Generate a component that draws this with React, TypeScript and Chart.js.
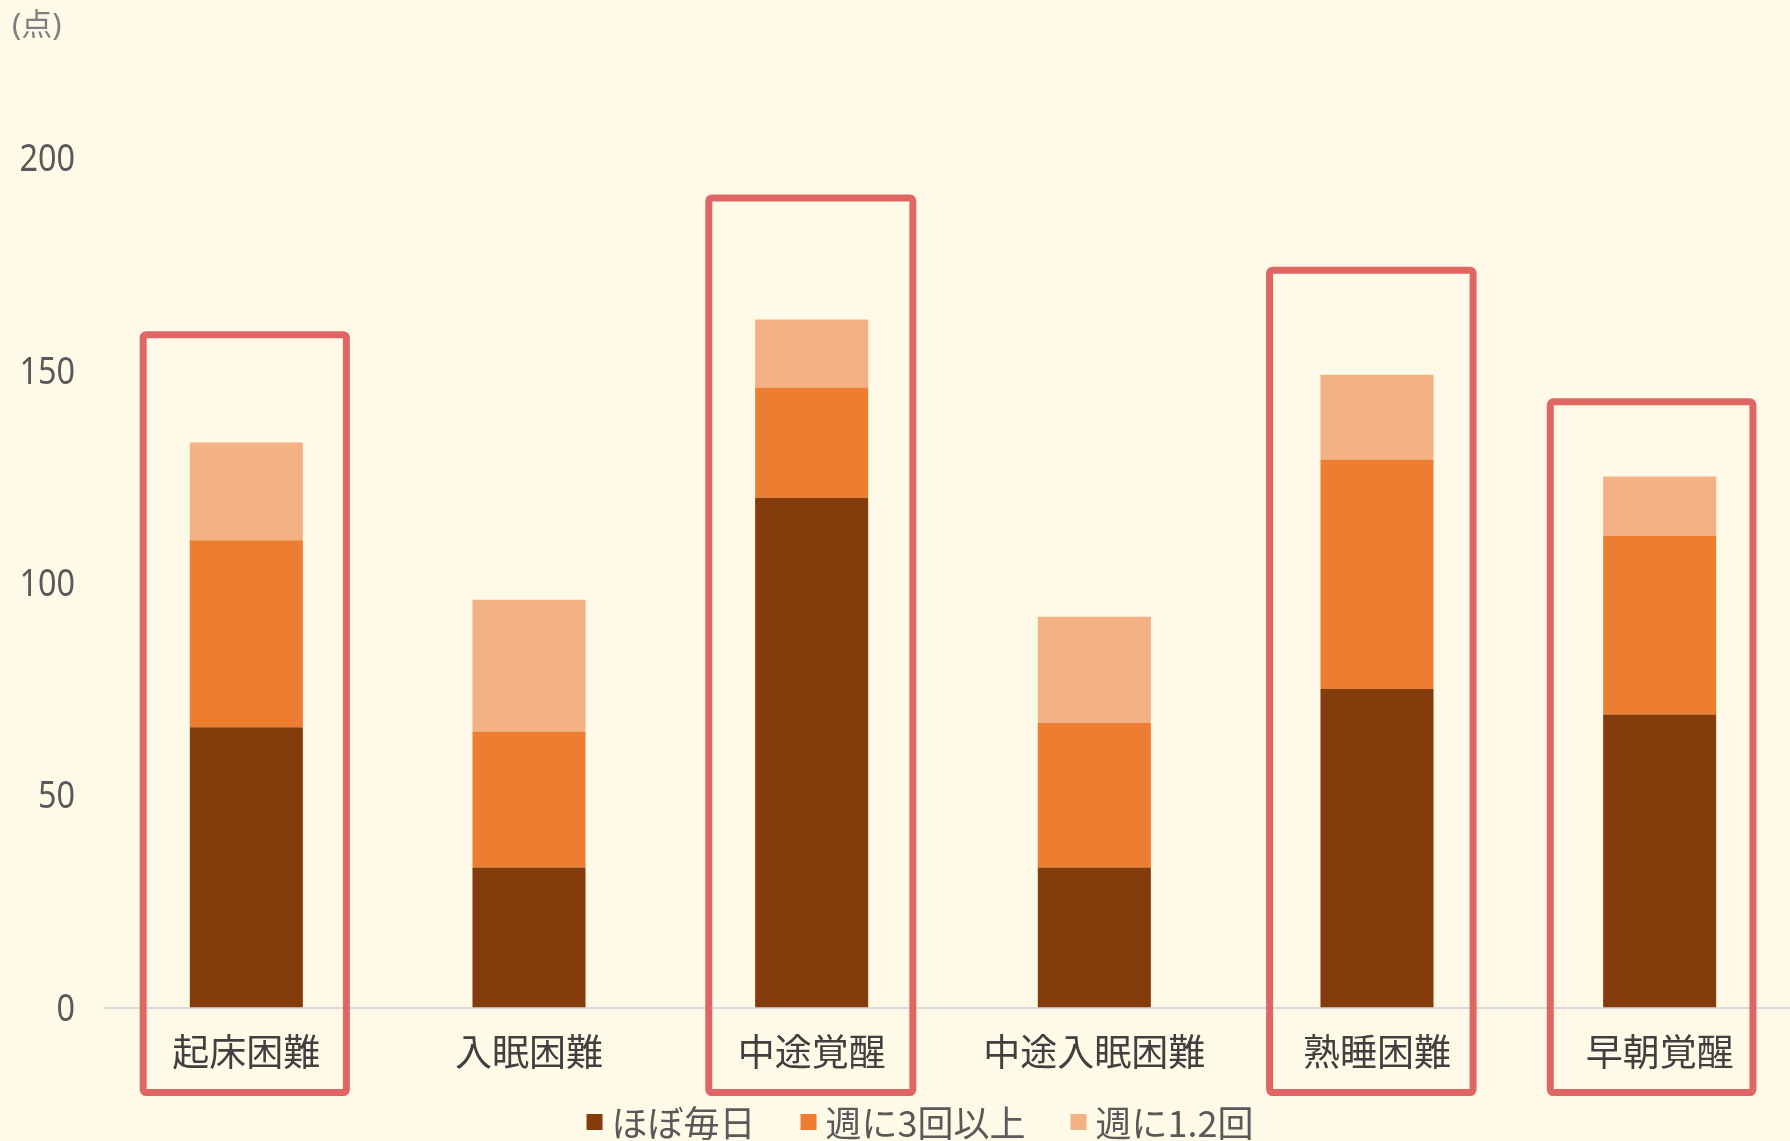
import React, { useEffect, useRef } from "react";
import { Chart, registerables } from "chart.js";

Chart.register(...registerables);

// ---- data ----
const categories = ["起床困難", "入眠困難", "中途覚醒", "中途入眠困難", "熟睡困難", "早朝覚醒"];
const seriesNames = ["ほぼ毎日", "週に3回以上", "週に1.2回"];
const almostDaily = [66, 33, 120, 33, 75, 69];
const threePlusWeekly = [44, 32, 26, 34, 54, 42];
const oneTwoWeekly = [23, 31, 16, 25, 20, 14];
const yTicks = [0, 50, 100, 150, 200];
const unitLabel = "(点)";

// highlighted categories (red frames), tops in value units
const highlightIndex = [0, 2, 4, 5];
const highlightTop = [158.4, 190.6, 173.6, 142.6];
const highlightBottom = -20;
// frame edges relative to category centre, in category widths
const highlightLeft = [-0.365, -0.364, -0.38, -0.387];
const highlightRight = [0.354, 0.358, 0.34, 0.33];

// ---- styles ----
const BG = "#FFFAE8";
const COLORS = ["#843C0C", "#ED7D31", "#F4B183"];
const NUM_FONT = "'Noto Sans', 'Noto Sans CJK JP', sans-serif";
const CJK_FONT = "'Noto Sans CJK JP', sans-serif";

const bgPlugin = {
  id: "bg",
  beforeDraw(chart: any) {
    const { ctx, width, height } = chart;
    ctx.save();
    ctx.fillStyle = BG;
    ctx.fillRect(0, 0, width, height);
    ctx.restore();
  },
};

const framePlugin = {
  id: "frames",
  afterDraw(chart: any) {
    const { ctx } = chart;
    const xs = chart.scales.x;
    const ys = chart.scales.y;
    const cw = xs.getPixelForValue(1) - xs.getPixelForValue(0);

    // y tick labels (narrow digits)
    ctx.save();
    ctx.fillStyle = "#595959";
    ctx.font = `39px ${NUM_FONT}`;
    ctx.textAlign = "right";
    ctx.textBaseline = "middle";
    ys.ticks.forEach((t: any) => {
      const py = ys.getPixelForValue(t.value);
      ctx.save();
      ctx.translate(ys.right - 30, py + 2);
      ctx.scale(0.83, 1);
      ctx.fillText(String(t.value), 0, 0);
      ctx.restore();
    });
    ctx.restore();

    // highlight frames
    ctx.save();
    ctx.strokeStyle = "#E06666";
    ctx.lineWidth = 7;
    ctx.lineJoin = "round";
    highlightIndex.forEach((idx, k) => {
      const cx = xs.getPixelForValue(idx);
      const l = cx + highlightLeft[k] * cw;
      const r = cx + highlightRight[k] * cw;
      const t = ys.getPixelForValue(highlightTop[k]);
      const b = ys.getPixelForValue(highlightBottom);
      ctx.beginPath();
      if (ctx.roundRect) ctx.roundRect(l, t, r - l, b - t, 3);
      else ctx.rect(l, t, r - l, b - t);
      ctx.stroke();
    });
    ctx.restore();

    // unit label
    ctx.save();
    ctx.fillStyle = "#7F7F7F";
    ctx.font = `31px ${NUM_FONT}`;
    ctx.textBaseline = "middle";
    ctx.textAlign = "left";
    ctx.fillText(unitLabel, 12, 26);
    ctx.restore();

    // legend
    ctx.save();
    ctx.font = `36px ${CJK_FONT}`;
    ctx.textBaseline = "middle";
    ctx.textAlign = "left";
    const box = 16;
    const gap = 9;
    const itemGap = 45;
    const items = chart.data.datasets.map((d: any) => ({
      label: d.label,
      color: d.backgroundColor,
      w: box + gap + ctx.measureText(d.label).width,
    }));
    const total = items.reduce((s: number, it: any) => s + it.w, 0) + itemGap * (items.length - 1);
    let x = 920 - total / 2;
    const y = 1122;
    items.forEach((it: any) => {
      ctx.fillStyle = it.color;
      ctx.fillRect(x, y - box / 2, box, box);
      ctx.fillStyle = "#595959";
      ctx.fillText(it.label, x + box + gap, y + 1);
      x += it.w + itemGap;
    });
    ctx.restore();
  },
};

export default function App() {
  const ref = useRef<HTMLCanvasElement>(null);

  useEffect(() => {
    if (!ref.current) return;
    const values = [almostDaily, threePlusWeekly, oneTwoWeekly];
    const chart = new Chart(ref.current, {
      type: "bar",
      data: {
        labels: categories,
        datasets: seriesNames.map((name, i) => ({
          label: name,
          data: values[i],
          backgroundColor: COLORS[i],
          borderWidth: 0,
          categoryPercentage: 0.8,
          barPercentage: 0.5,
        })),
      },
      options: {
        responsive: false,
        animation: false,
        devicePixelRatio: 1,
        layout: { padding: { top: 158, left: 13, right: 0, bottom: 45 } },
        plugins: {
          legend: { display: false },
          tooltip: { enabled: false },
          title: { display: false },
        },
        scales: {
          x: {
            stacked: true,
            grid: { display: false, drawTicks: false, tickLength: 0 },
            border: { display: true, color: "#D9D9D9", width: 2 },
            ticks: {
              color: "#404040",
              font: { family: CJK_FONT, size: 37 },
              padding: 22,
              maxRotation: 0,
              autoSkip: false,
            },
          },
          y: {
            stacked: true,
            min: 0,
            max: 200,
            grid: { display: false, drawTicks: false, tickLength: 0 },
            border: { display: false },
            afterBuildTicks: (s: any) => {
              s.ticks = yTicks.map((v) => ({ value: v }));
            },
            afterFit: (s: any) => {
              s.width = 92;
            },
            ticks: { display: false },
          },
        },
      },
      plugins: [bgPlugin, framePlugin],
    });
    return () => chart.destroy();
  }, []);

  return (
    <div
      style={{
        position: "fixed",
        left: 0,
        top: 0,
        width: 1790,
        height: 1141,
        overflow: "hidden",
        background: BG,
      }}
    >
      <canvas ref={ref} width={1801} height={1141} style={{ width: 1801, height: 1141, display: "block" }} />
    </div>
  );
}
